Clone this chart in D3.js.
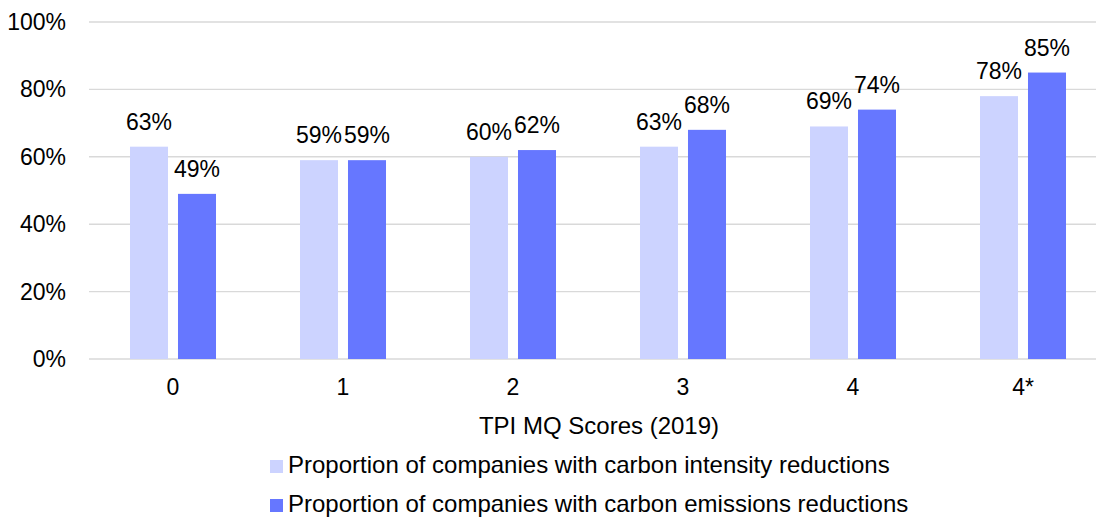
<!DOCTYPE html>
<html>
<head>
<meta charset="utf-8">
<script src="https://cdn.jsdelivr.net/npm/d3@7"></script>
<style>
  body { margin: 0; background: #fff; }
  text { font-family: "Liberation Sans", Arial, sans-serif; fill: #000; }
</style>
</head>
<body>
<div id="chart"></div>
<script>
const width = 1096;
const height = 517;

// data
const scores = ["0", "1", "2", "3", "4", "4*"];
const intensity = [63, 59, 60, 63, 69, 78];
const emissions = [49, 59, 62, 68, 74, 85];
const seriesNames = [
  "Proportion of companies with carbon intensity reductions",
  "Proportion of companies with carbon emissions reductions"
];
const yTicks = [0, 20, 40, 60, 80, 100];

const colors = ["#CCD3FF", "#6677FF"];
const numSize = 23;   // ticks + data labels
const textSize = 24;  // title + legend

let svg = d3.select('#chart').append('svg')
  .attr('width', width)
  .attr('height', height);

const x0 = d3.scaleBand().domain(scores).range([88, 1108]);
const x1 = d3.scaleBand().domain([0, 1])
  .range([0, x0.bandwidth()])
  .paddingInner(0.208)
  .paddingOuter(0.875);
const y = d3.scaleLinear().domain([0, 100]).range([359, 22]);

// gridlines
svg.selectAll('.grid').data(yTicks).enter()
  .append('line')
  .attr('x1', 89).attr('x2', width)
  .attr('y1', d => y(d)).attr('y2', d => y(d))
  .attr('stroke', '#d9d9d9')
  .attr('stroke-width', 1.4);

// y labels
svg.selectAll('.ylab').data(yTicks).enter()
  .append('text')
  .attr('x', 66)
  .attr('y', d => y(d) + 8)
  .attr('text-anchor', 'end')
  .style('font-size', numSize + 'px')
  .text(d => d + '%');

// bars
const rows = scores.map((s, i) => ({ score: s, vals: [intensity[i], emissions[i]] }));
let groups = svg.selectAll('.group').data(rows).enter()
  .append('g')
  .attr('transform', d => `translate(${x0(d.score)},0)`);

groups.selectAll('rect').data(d => d.vals.map((v, k) => ({ v, k }))).enter()
  .append('rect')
  .attr('x', d => x1(d.k))
  .attr('width', x1.bandwidth())
  .attr('y', d => y(d.v))
  .attr('height', d => y(0) - y(d.v))
  .attr('fill', d => colors[d.k]);

groups.selectAll('.lab').data(d => d.vals.map((v, k) => ({ v, k }))).enter()
  .append('text')
  .attr('x', d => x1(d.k) + x1.bandwidth() / 2)
  .attr('y', d => y(d.v) - 17)
  .attr('text-anchor', 'middle')
  .style('font-size', numSize + 'px')
  .text(d => d.v + '%');

// x tick labels
svg.selectAll('.xlab').data(scores).enter()
  .append('text')
  .attr('x', d => x0(d) + x0.bandwidth() / 2)
  .attr('y', 395)
  .attr('text-anchor', 'middle')
  .style('font-size', numSize + 'px')
  .text(d => d);

// axis title
svg.append('text')
  .attr('x', 599)
  .attr('y', 434)
  .attr('text-anchor', 'middle')
  .style('font-size', textSize + 'px')
  .text('TPI MQ Scores (2019)');

// legend
let legend = svg.selectAll('.legend').data(seriesNames).enter()
  .append('g')
  .attr('transform', (d, i) => `translate(270,${473 + i * 39})`);
legend.append('rect')
  .attr('x', 0).attr('y', -13)
  .attr('width', 13).attr('height', 13)
  .attr('fill', (d, i) => colors[i]);
legend.append('text')
  .attr('x', 18).attr('y', 0)
  .style('font-size', textSize + 'px')
  .text(d => d);
</script>
</body>
</html>
